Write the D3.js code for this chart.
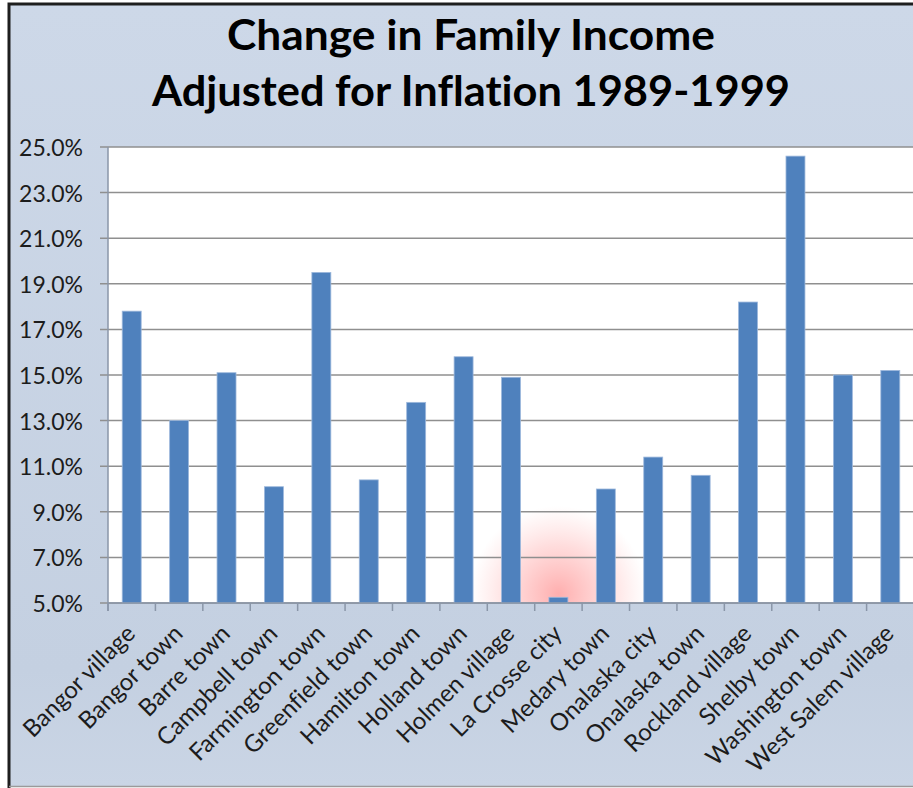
<!DOCTYPE html>
<html>
<head>
<meta charset="utf-8">
<script src="https://cdn.jsdelivr.net/npm/d3@7"></script>
<style>
  body { margin: 0; background: #fff; }
  text { font-family: Lato, 'Open Sans', sans-serif; font-variant-ligatures: none; }
</style>
</head>
<body>
<div class="bar_chart_container"></div>
<script>
// 資料
const towns = [
    'Bangor village', 'Bangor town', 'Barre town', 'Campbell town', 'Farmington town',
    'Greenfield town', 'Hamilton town', 'Holland town', 'Holmen village', 'La Crosse city',
    'Medary town', 'Onalaska city', 'Onalaska town', 'Rockland village', 'Shelby town',
    'Washington town', 'West Salem village'
]
const incomeChange = [17.8, 13.0, 15.1, 10.1, 19.5, 10.4, 13.8, 15.8, 14.9, 5.25,
    10.0, 11.4, 10.6, 18.2, 24.6, 15.0, 15.2]
const yTicks = [5, 7, 9, 11, 13, 15, 17, 19, 21, 23, 25]
const titleLines = ['Change in Family Income', 'Adjusted for Inflation 1989-1999']

function setupCanvas() {
    const svg_width = 913
    const svg_height = 788
    const chart_margin = { top: 147, bottom: 185, left: 108, right: -1 }
    const chart_width = svg_width - (chart_margin.left + chart_margin.right)
    const chart_height = svg_height - (chart_margin.top + chart_margin.bottom)

    const svg = d3.select('.bar_chart_container').append('svg')
        .attr('width', svg_width).attr('height', svg_height)

    // 背景漸層
    const defs = svg.append('defs')
    const bg = defs.append('linearGradient').attr('id', 'bg').attr('x1', 0).attr('y1', 0).attr('x2', 0).attr('y2', 1)
    bg.append('stop').attr('offset', '0%').attr('stop-color', '#cdd8e8')
    bg.append('stop').attr('offset', '85%').attr('stop-color', '#c4d0e1')
    bg.append('stop').attr('offset', '100%').attr('stop-color', '#cad5e5')
    const glow = defs.append('radialGradient').attr('id', 'glow')
    glow.append('stop').attr('offset', '0%').attr('stop-color', 'rgb(255,120,120)').attr('stop-opacity', 0.6)
    glow.append('stop').attr('offset', '55%').attr('stop-color', 'rgb(255,140,140)').attr('stop-opacity', 0.3)
    glow.append('stop').attr('offset', '100%').attr('stop-color', 'rgb(255,160,160)').attr('stop-opacity', 0)
    defs.append('clipPath').attr('id', 'plotClip').append('rect')
        .attr('x', chart_margin.left).attr('y', chart_margin.top)
        .attr('width', chart_width).attr('height', chart_height)

    // 外框 (左、上為深色, 下為灰線)
    svg.append('rect').attr('x', 9).attr('y', 4).attr('width', svg_width).attr('height', svg_height - 5)
        .attr('fill', 'url(#bg)')
    svg.append('path').attr('d', `M9,${svg_height} V4 H${svg_width}`)
        .attr('fill', 'none').attr('stroke', '#1e1e1e').attr('stroke-width', 3)
    svg.append('line').attr('x1', 9).attr('x2', svg_width).attr('y1', svg_height - 1.5).attr('y2', svg_height - 1.5)
        .attr('stroke', '#9a9a9a').attr('stroke-width', 1.5)

    // scale
    const xScale = d3.scaleBand().domain(towns)
        .range([chart_margin.left, chart_margin.left + chart_width])
        .paddingInner(0.6).paddingOuter(0.3)
    const yScale = d3.scaleLinear().domain([5, 25])
        .range([chart_margin.top + chart_height, chart_margin.top])

    // 繪圖區
    svg.append('rect').attr('x', chart_margin.left).attr('y', chart_margin.top)
        .attr('width', chart_width).attr('height', chart_height).attr('fill', '#fff')

    svg.append('circle').attr('clip-path', 'url(#plotClip)')
        .attr('cx', xScale('La Crosse city') + xScale.bandwidth() / 2)
        .attr('cy', yScale(5.4))
        .attr('r', 88).attr('fill', 'url(#glow)')

    // 格線
    svg.append('g').selectAll('line').data(yTicks).enter().append('line')
        .attr('x1', chart_margin.left - 8).attr('x2', chart_margin.left + chart_width)
        .attr('y1', d => yScale(d)).attr('y2', d => yScale(d))
        .attr('stroke', '#8f8f8f').attr('stroke-width', 1.5)

    // bars
    svg.append('g').selectAll('rect').data(incomeChange).enter().append('rect')
        .attr('x', (d, i) => xScale(towns[i]))
        .attr('y', d => yScale(d))
        .attr('width', xScale.bandwidth())
        .attr('height', d => yScale(5) - yScale(d))
        .attr('fill', '#4f81bd')
        .attr('stroke', '#9db8dc').attr('stroke-width', 0.8)

    // x 軸
    const step = xScale.step()
    const boundaries = towns.map(t => xScale(t) - step * 0.3).concat([xScale(towns[towns.length - 1]) + xScale.bandwidth() + step * 0.3])
    svg.append('line').attr('x1', chart_margin.left).attr('x2', chart_margin.left + chart_width)
        .attr('y1', yScale(5)).attr('y2', yScale(5)).attr('stroke', '#8a96a8').attr('stroke-width', 1.5)
    svg.append('g').selectAll('line').data(boundaries).enter().append('line')
        .attr('x1', d => d).attr('x2', d => d)
        .attr('y1', yScale(5)).attr('y2', yScale(5) + 8)
        .attr('stroke', '#8a96a8').attr('stroke-width', 1.5)

    svg.append('g').selectAll('text').data(towns).enter().append('text')
        .attr('transform', d => `translate(${xScale(d) + xScale.bandwidth() / 2 + 5},${yScale(5) + 32}) rotate(-45)`)
        .attr('text-anchor', 'end')
        .style('font-size', '24px').style('fill', '#1c1c1c')
        .text(d => d)

    // y 軸
    svg.append('line').attr('x1', chart_margin.left).attr('x2', chart_margin.left)
        .attr('y1', chart_margin.top).attr('y2', yScale(5) + 8)
        .attr('stroke', '#8a96a8').attr('stroke-width', 1.5)
    svg.append('g').selectAll('text').data(yTicks).enter().append('text')
        .attr('x', 83).attr('y', d => yScale(d))
        .attr('text-anchor', 'end').attr('dominant-baseline', 'central')
        .style('font-size', '23px').style('fill', '#1c1c1c')
        .text(d => d3.format('.1f')(d) + '%')

    // 標題
    const titleWidths = [488, 638]
    svg.append('g').selectAll('text').data(titleLines).enter().append('text')
        .attr('x', 471).attr('y', (d, i) => 50 + i * 56)
        .attr('text-anchor', 'middle')
        .attr('textLength', (d, i) => titleWidths[i]).attr('lengthAdjust', 'spacingAndGlyphs')
        .style('font-size', '42px').style('font-weight', 'bold').style('fill', '#000')
        .text(d => d)
}

setupCanvas()
</script>
</body>
</html>
